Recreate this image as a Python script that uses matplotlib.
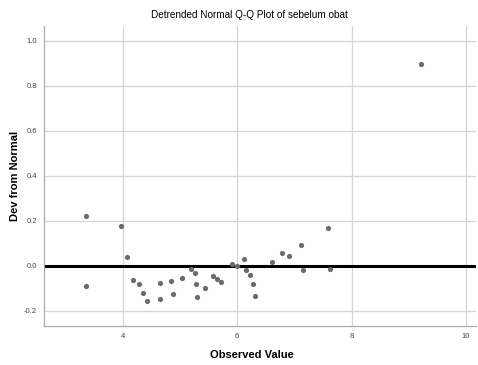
import matplotlib
matplotlib.use("Agg")
from matplotlib import pyplot as plt

plt.rcParams['font.family'] = ['Liberation Sans', 'DejaVu Sans']

observed = [3.35, 3.35, 3.96, 4.08, 4.18, 4.285, 4.355, 4.425, 4.65, 4.65,
            4.845, 4.87, 5.04, 5.19, 5.26, 5.28, 5.29, 5.43, 5.58, 5.65,
            5.72, 5.91, 5.99, 6.115, 6.145, 6.22, 6.27, 6.31, 6.61, 6.785,
            6.90, 7.11, 7.15, 7.59, 7.62, 9.21]
deviation = [0.224, -0.089, 0.178, 0.040, -0.062, -0.081, -0.121, -0.156, -0.076, -0.147,
             -0.067, -0.124, -0.056, -0.016, -0.030, -0.081, -0.139, -0.098, -0.047, -0.059,
             -0.071, 0.009, 0.000, 0.030, -0.018, -0.041, -0.081, -0.133, 0.019, 0.058,
             0.044, 0.092, -0.018, 0.170, -0.015, 0.899]

x_ticks = [4, 6, 8, 10]
y_ticks = [-0.2, 0.0, 0.2, 0.4, 0.6, 0.8, 1.0]

fig = plt.figure(figsize=(4.78, 3.65), dpi=100)
ax = fig.add_axes([0.092, 0.107, 0.903, 0.822])

ax.scatter(observed, deviation, s=14, color="#6b6b6b", zorder=3, linewidths=0)
ax.axhline(0, color="black", linewidth=2.2, zorder=2)

ax.set_xlim(2.62, 10.17)
ax.set_ylim(-0.267, 1.067)
ax.set_xticks(x_ticks)
ax.set_yticks(y_ticks)
ax.set_yticklabels(["%.1f" % v for v in y_ticks])
ax.tick_params(length=0, labelsize=5.5, labelcolor="#444444", pad=5)
ax.grid(True, color="#d4d4d4", linewidth=0.9, zorder=0)
ax.set_axisbelow(True)

for side in ["top", "right"]:
    ax.spines[side].set_visible(False)
for side in ["left", "bottom"]:
    ax.spines[side].set_color("#aaaaaa")
    ax.spines[side].set_linewidth(0.9)

ax.set_title("Detrended Normal Q-Q Plot of sebelum obat", fontsize=7.2, pad=6, x=0.475)
ax.set_xlabel("Observed Value", fontsize=8, fontweight="bold", labelpad=7, x=0.482)
ax.set_ylabel("Dev from Normal", fontsize=8, fontweight="bold", labelpad=3)

plt.savefig("out.png", dpi=100)
